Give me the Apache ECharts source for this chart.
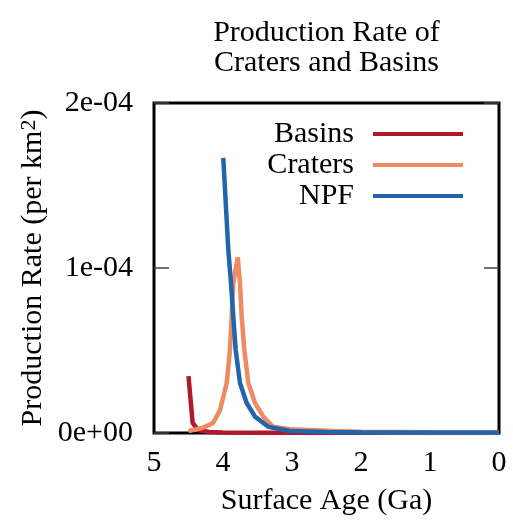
<!DOCTYPE html>
<html>
<head>
<meta charset="utf-8">
<script src="https://cdn.jsdelivr.net/npm/echarts@6/dist/echarts.min.js"></script>
<style>
html, body { margin: 0; padding: 0; background: #fff; }
#chart { width: 513px; height: 525px; }
</style>
</head>
<body>
<div id="chart"></div>
<script>
// Data (rates in units of 1e-4 per km^2)
var seriesNames = ['Basins', 'Craters', 'NPF'];
var basinsAge  = [4.5, 4.44, 4.36, 4.2, 4.0, 3.5, 3.0, 2.0, 1.0, 0.0];
var basinsRate = [0.345, 0.061, 0.018, 0.006, 0.003, 0.002, 0.001, 0.001, 0.0005, 0.0005];
var cratersAge  = [4.5, 4.3, 4.145, 4.043, 3.946, 3.899, 3.874, 3.851, 3.787, 3.754, 3.729, 3.691, 3.633, 3.536, 3.416, 3.275, 3.0, 2.4, 2.0, 1.0, 0.0];
var cratersRate = [0.012, 0.03, 0.06, 0.139, 0.303, 0.503, 0.705, 0.907, 1.065, 0.909, 0.705, 0.503, 0.303, 0.182, 0.099, 0.038, 0.022, 0.012, 0.008, 0.004, 0.003];
var npfAge  = [3.996, 3.923, 3.884, 3.851, 3.816, 3.754, 3.657, 3.536, 3.343, 3.03, 2.5, 2.0, 1.0, 0.0];
var npfRate = [1.667, 1.109, 0.909, 0.705, 0.503, 0.303, 0.182, 0.099, 0.038, 0.012, 0.006, 0.004, 0.003, 0.003];
var xTickLabels = ['0', '1', '2', '3', '4', '5'];
var yTickLabels = ['0e+00', '1e-04', '2e-04'];
var colors = ['#b2182b', '#ef8a62', '#2166ac'];

function pairs(ages, rates) {
  return ages.map(function (a, i) { return [a, rates[i] * 1e-4]; });
}

var FONT = 'Liberation Serif';
var chart = echarts.init(document.getElementById('chart'), null, { renderer: 'canvas' });

var tickStyle = { show: true, inside: true, length: 15, lineStyle: { color: '#444', width: 1.5 } };

chart.setOption({
  animation: false,
  backgroundColor: '#fff',
  title: {
    text: 'Production Rate of\nCraters and Basins',
    left: 326.5, top: 18, padding: 0, textAlign: 'center',
    textStyle: { fontFamily: FONT, fontSize: 30, fontWeight: 'normal', color: '#000', lineHeight: 30 }
  },
  legend: {
    data: seriesNames, orient: 'vertical', align: 'right', right: 50, top: 118.5, padding: 0, itemGap: 0,
    icon: 'rect', itemWidth: 90, itemHeight: 4,
    textStyle: { fontFamily: FONT, fontSize: 30, color: '#000', lineHeight: 31, padding: [0, 14, 0, 0] }
  },
  grid: {
    left: 154, right: 14, top: 103, bottom: 92,
    show: true, borderColor: '#000', borderWidth: 3, outerBoundsMode: 'none'
  },
  xAxis: {
    type: 'value', min: 0, max: 5, interval: 1, inverse: true,
    name: 'Surface Age (Ga)', nameLocation: 'middle', nameGap: 53, nameMoveOverlap: false,
    nameTextStyle: { fontFamily: FONT, fontSize: 30, color: '#000' },
    axisLine: { show: false, onZero: false }, axisTick: { show: false }, splitLine: { show: false },
    axisLabel: { margin: 15, fontFamily: FONT, fontSize: 30, color: '#000',
      formatter: function (v) { return xTickLabels[Math.round(v)]; } }
  },
  yAxis: [
    {
      type: 'value', position: 'left', min: 0, max: 2e-4, interval: 1e-4,
      axisLine: { show: false, onZero: false }, splitLine: { show: false },
      axisTick: tickStyle,
      name: '{m|Production Rate (per km}{s|2}{m|)}', nameLocation: 'middle', nameGap: 106, nameRotate: 90,
      nameMoveOverlap: false,
      nameTextStyle: { fontFamily: FONT, fontSize: 30, color: '#000', lineHeight: 30,
        rich: { m: { fontFamily: FONT, fontSize: 30, color: '#000', lineHeight: 30, verticalAlign: 'bottom' },
                s: { fontFamily: FONT, fontSize: 22, color: '#000', lineHeight: 22, verticalAlign: 'top', padding: [0, 0, 18, 0] } } },
      axisLabel: { margin: 21, fontFamily: FONT, fontSize: 30, color: '#000',
        formatter: function (v) { return yTickLabels[Math.round(v / 1e-4)]; } }
    },
    {
      type: 'value', position: 'right', min: 0, max: 2e-4, interval: 1e-4,
      axisLine: { show: false, onZero: false }, splitLine: { show: false },
      axisTick: tickStyle,
      axisLabel: { show: false }
    }
  ],
  series: [
    { name: seriesNames[0], type: 'line', data: pairs(basinsAge, basinsRate), symbol: 'none',
      lineStyle: { width: 4.5, color: colors[0] }, itemStyle: { color: colors[0] } },
    { name: seriesNames[1], type: 'line', data: pairs(cratersAge, cratersRate), symbol: 'none',
      lineStyle: { width: 4.5, color: colors[1] }, itemStyle: { color: colors[1] } },
    { name: seriesNames[2], type: 'line', data: pairs(npfAge, npfRate), symbol: 'none',
      lineStyle: { width: 4.5, color: colors[2] }, itemStyle: { color: colors[2] } }
  ]
});
</script>
</body>
</html>
